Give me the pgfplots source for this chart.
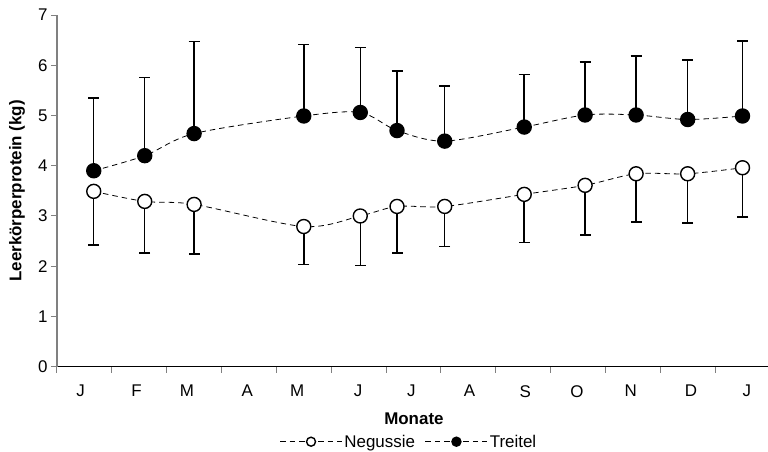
\documentclass[border=0pt]{standalone}
\usepackage{fontspec}
\setmainfont{Liberation Sans}
\usepackage{pgfplots}
\usepackage{pgfplotstable}
\pgfplotsset{compat=1.18}

\pgfplotstableread{
x y e
0.67 3.49 1.07
1.60 3.29 1.03
2.50 3.23 0.99
4.50 2.79 0.76
5.53 3.00 0.99
6.20 3.19 0.93
7.07 3.19 0.80
8.52 3.43 0.96
9.63 3.61 0.99
10.56 3.84 0.96
11.50 3.84 0.98
12.50 3.96 0.98
}\negussie

\pgfplotstableread{
x y e
0.67 3.90 1.45
1.60 4.20 1.56
2.50 4.64 1.83
4.50 4.99 1.42
5.53 5.06 1.29
6.20 4.70 1.19
7.07 4.49 1.10
8.52 4.77 1.05
9.63 5.01 1.05
10.56 5.01 1.17
11.50 4.92 1.18
12.50 4.99 1.49
}\treitel

\begin{document}
\begin{tikzpicture}
\useasboundingbox (-57bp,-85.3bp) rectangle (711bp,366.7bp);
\begin{axis}[
  scale only axis, width=711bp, height=351.7bp,
  xmin=0, xmax=12.965, ymin=0, ymax=7,
  axis x line*=bottom, axis y line*=left,
  x axis line style={-, black, line width=1bp},
  y axis line style={-, gray, line width=1.3bp},
  tick align=outside,
  major tick length=6bp, minor tick length=6bp,
  xtick={0.43,1.45,2.37,3.47,4.38,5.49,6.46,7.52,8.54,9.48,10.46,11.56,12.58},
  xticklabels={J,F,M,A,M,J,J,A,S,O,N,D,J},
  minor xtick={0,...,12},
  major x tick style={draw=none},
  minor x tick style={gray, line width=1bp},
  ytick={0,...,7},
  y tick style={gray, line width=1bp},
  /pgf/number format/assume math mode=true,
  tick label style={font=\fontsize{17}{20}\selectfont},
  xticklabel style={yshift=-9bp},
  label style={font=\fontsize{17}{20}\selectfont\bfseries},
  xlabel={Monate},
  ylabel={Leerkörperprotein (kg)},
  xlabel style={at={(axis description cs:0.502,0)}, anchor=center, yshift=-52bp},
  ylabel style={at={(axis description cs:-0.0563,0.5)}, anchor=center},
  legend style={at={(axis description cs:0.495,0)}, anchor=center, yshift=-75bp,
    draw=none, fill=none, font=\fontsize{17}{20}\selectfont,
    /tikz/every even column/.append style={column sep=8bp}},
  legend columns=-1,
  legend image code/.code={\draw[#1, mark size=4.5bp, mark repeat=2, mark phase=2] plot coordinates {(0bp,0bp) (31bp,0bp) (62bp,0bp)};},
]
\addplot[black, line width=0.8bp, dash pattern=on 5.5bp off 4bp, smooth,
  mark=*, mark size=7bp, mark options={solid, fill=white, line width=1.4bp},
  error bars/.cd, y dir=minus, y explicit,
  error bar style={solid, line width=1.5bp},
  error mark options={solid, rotate=90, mark size=5.5bp, line width=1.5bp}]
  table[x=x, y=y, y error minus=e] {\negussie};
\addlegendentry{Negussie}
\addplot[black, line width=0.8bp, dash pattern=on 5.5bp off 4bp, smooth,
  mark=*, mark size=7bp, mark options={solid, fill=black, line width=1.4bp},
  error bars/.cd, y dir=plus, y explicit,
  error bar style={solid, line width=1.5bp},
  error mark options={solid, rotate=90, mark size=5.5bp, line width=1.5bp}]
  table[x=x, y=y, y error plus=e] {\treitel};
\addlegendentry{Treitel}
\end{axis}
\end{tikzpicture}
\end{document}
